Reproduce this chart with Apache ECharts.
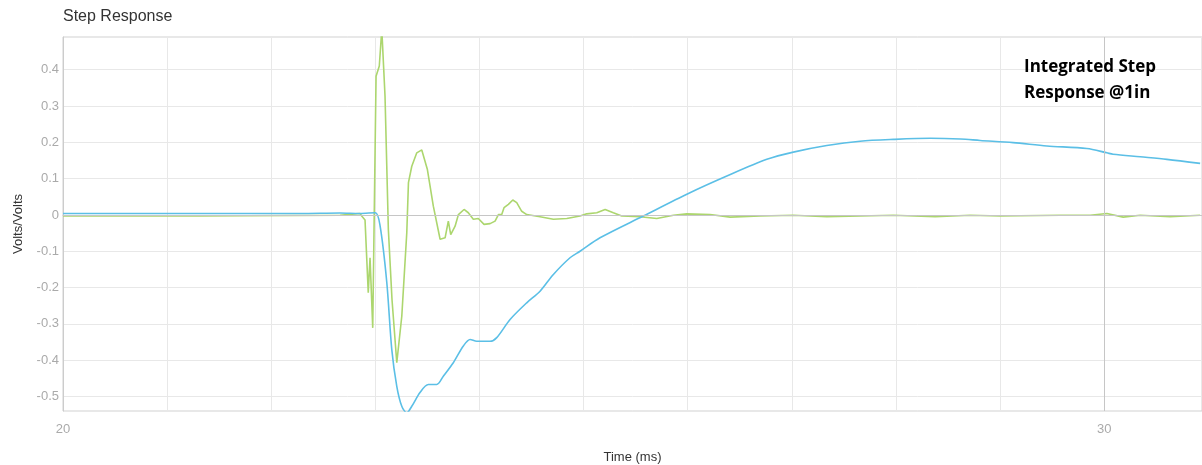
<!DOCTYPE html>
<html>
<head>
<meta charset="utf-8">
<script src="https://cdn.jsdelivr.net/npm/echarts@6/dist/echarts.min.js"></script>
<style>
  html, body { margin: 0; padding: 0; background: #fff; }
  #chart { width: 1202px; height: 465px; }
</style>
</head>
<body>
<div id="chart"></div>
<script>
// blue trace (integrated step response)
const blueTime = [20.0, 22.28, 22.66, 22.85, 23.0, 23.046, 23.11, 23.158, 23.206, 23.254, 23.302, 23.35, 23.429, 23.509, 23.59, 23.653, 23.749, 23.845, 23.91, 23.974, 24.102, 24.166, 24.294, 24.454, 24.582, 24.71, 24.87, 24.966, 25.158, 25.574, 26.007, 26.376, 26.76, 27.015, 27.336, 27.656, 27.976, 28.33, 28.62, 28.809, 29.126, 29.45, 29.834, 30.026, 30.086, 30.346, 30.602, 30.922];
const blueVolts = [0.004, 0.004, 0.0055, 0.004, 0.006, -0.031, -0.186, -0.371, -0.472, -0.527, -0.545, -0.527, -0.489, -0.467, -0.467, -0.444, -0.407, -0.361, -0.343, -0.348, -0.348, -0.338, -0.288, -0.242, -0.21, -0.164, -0.118, -0.1, -0.063, -0.003, 0.059, 0.107, 0.153, 0.173, 0.191, 0.203, 0.208, 0.211, 0.209, 0.205, 0.199, 0.19, 0.183, 0.171, 0.167, 0.16, 0.153, 0.142];

// green trace (step response)
const greenTime = [20.0, 21.316, 22.661, 22.805, 22.853, 22.869, 22.901, 22.932, 22.949, 22.975, 23.007, 23.038, 23.062, 23.093, 23.125, 23.16, 23.206, 23.254, 23.302, 23.318, 23.35, 23.398, 23.446, 23.5, 23.557, 23.622, 23.67, 23.701, 23.724, 23.766, 23.798, 23.852, 23.893, 23.941, 23.989, 24.044, 24.102, 24.15, 24.182, 24.214, 24.236, 24.278, 24.32, 24.358, 24.406, 24.454, 24.582, 24.71, 24.839, 24.966, 25.03, 25.127, 25.207, 25.286, 25.367, 25.543, 25.703, 25.863, 25.991, 26.215, 26.407, 26.695, 27.015, 27.336, 27.656, 27.976, 28.377, 28.713, 29.001, 29.577, 29.866, 30.026, 30.183, 30.346, 30.634, 30.922];
const greenVolts = [-0.003, -0.003, -0.001, 0.003, 0.004, -0.003, -0.014, -0.214, -0.118, -0.311, 0.382, 0.41, 0.511, 0.327, -0.04, -0.233, -0.407, -0.279, -0.049, 0.089, 0.134, 0.171, 0.179, 0.125, 0.024, -0.067, -0.063, -0.017, -0.054, -0.031, 0.001, 0.015, 0.006, -0.012, -0.01, -0.026, -0.024, -0.017, 0.001, 0.001, 0.02, 0.029, 0.041, 0.034, 0.01, 0.001, -0.005, -0.012, -0.01, -0.003, 0.003, 0.006, 0.015, 0.006, -0.003, -0.005, -0.01, -0.001, 0.003, 0.001, -0.006, -0.003, -0.001, -0.005, -0.003, -0.001, -0.005, -0.001, -0.003, -0.001, -0.001, 0.004, -0.006, -0.001, -0.005, -0.001];

const zip = (xs, ys) => xs.map((x, i) => [x, ys[i]]);

const chart = echarts.init(document.getElementById('chart'));

chart.setOption({
  animation: false,
  backgroundColor: '#fff',
  title: {
    text: 'Step Response',
    left: 58, top: 4,
    textStyle: { fontFamily: 'Liberation Sans', fontSize: 16, fontWeight: 'normal', color: '#333' }
  },
  grid: {
    left: 63, top: 37, right: 0, bottom: 54,
    outerBoundsMode: 'none',
    show: true, borderColor: '#d0d0d0', borderWidth: 1
  },
  xAxis: {
    type: 'value',
    min: 20, max: 30.94, interval: 1,
    name: 'Time (ms)', nameLocation: 'middle', nameGap: 40,
    nameTextStyle: { fontFamily: 'Liberation Sans', fontSize: 13, color: '#333' },
    axisLine: { lineStyle: { color: '#cccccc' } },
    axisTick: { show: false },
    axisLabel: {
      color: '#aaa', fontFamily: 'Liberation Sans', fontSize: 13, margin: 12,
      showMaxLabel: false,
      formatter: v => (Math.abs(v % 10) < 1e-9 ? String(v) : '')
    },
    splitLine: { lineStyle: { color: '#e8e8e8' } }
  },
  yAxis: {
    type: 'value',
    min: -0.54, max: 0.49, splitNumber: 10,
    name: 'Volts/Volts', nameLocation: 'middle', nameGap: 38,
    nameTextStyle: { fontFamily: 'Liberation Sans', fontSize: 13, color: '#333' },
    axisLine: { show: true, lineStyle: { color: '#cccccc' } },
    axisTick: { show: false },
    axisLabel: {
      color: '#aaa', fontFamily: 'Liberation Sans', fontSize: 13, margin: 4,
      showMinLabel: false, showMaxLabel: false,
      formatter: v => String(Math.round(v * 10) / 10)
    },
    splitLine: { lineStyle: { color: '#e8e8e8' } }
  },
  graphic: [{
    type: 'text',
    left: 1024, top: 54, z: 100,
    style: {
      text: 'Integrated Step\nResponse @1in',
      font: 'bold 17px "Open Sans"',
      lineHeight: 26,
      fill: '#000'
    }
  }],
  series: [
    {
      // darker reference lines at 0 V and 30 ms, kept beneath the traces
      name: 'ref',
      type: 'line',
      data: [],
      markLine: {
        silent: true, symbol: 'none', label: { show: false },
        lineStyle: { color: '#c6c6c6', type: 'solid', width: 1 },
        data: [{ xAxis: 30 }, { yAxis: 0 }]
      },
      z: 1
    },
    {
      name: 'Integrated',
      type: 'line',
      data: zip(blueTime, blueVolts),
      showSymbol: false,
      smooth: 0.3,
      lineStyle: { color: '#5bbfe6', width: 1.6 },
      z: 3
    },
    {
      name: 'Step',
      type: 'line',
      data: zip(greenTime, greenVolts),
      showSymbol: false,
      lineStyle: { color: '#acd66e', width: 1.6 },
      z: 2
    }
  ]
});
</script>
</body>
</html>
